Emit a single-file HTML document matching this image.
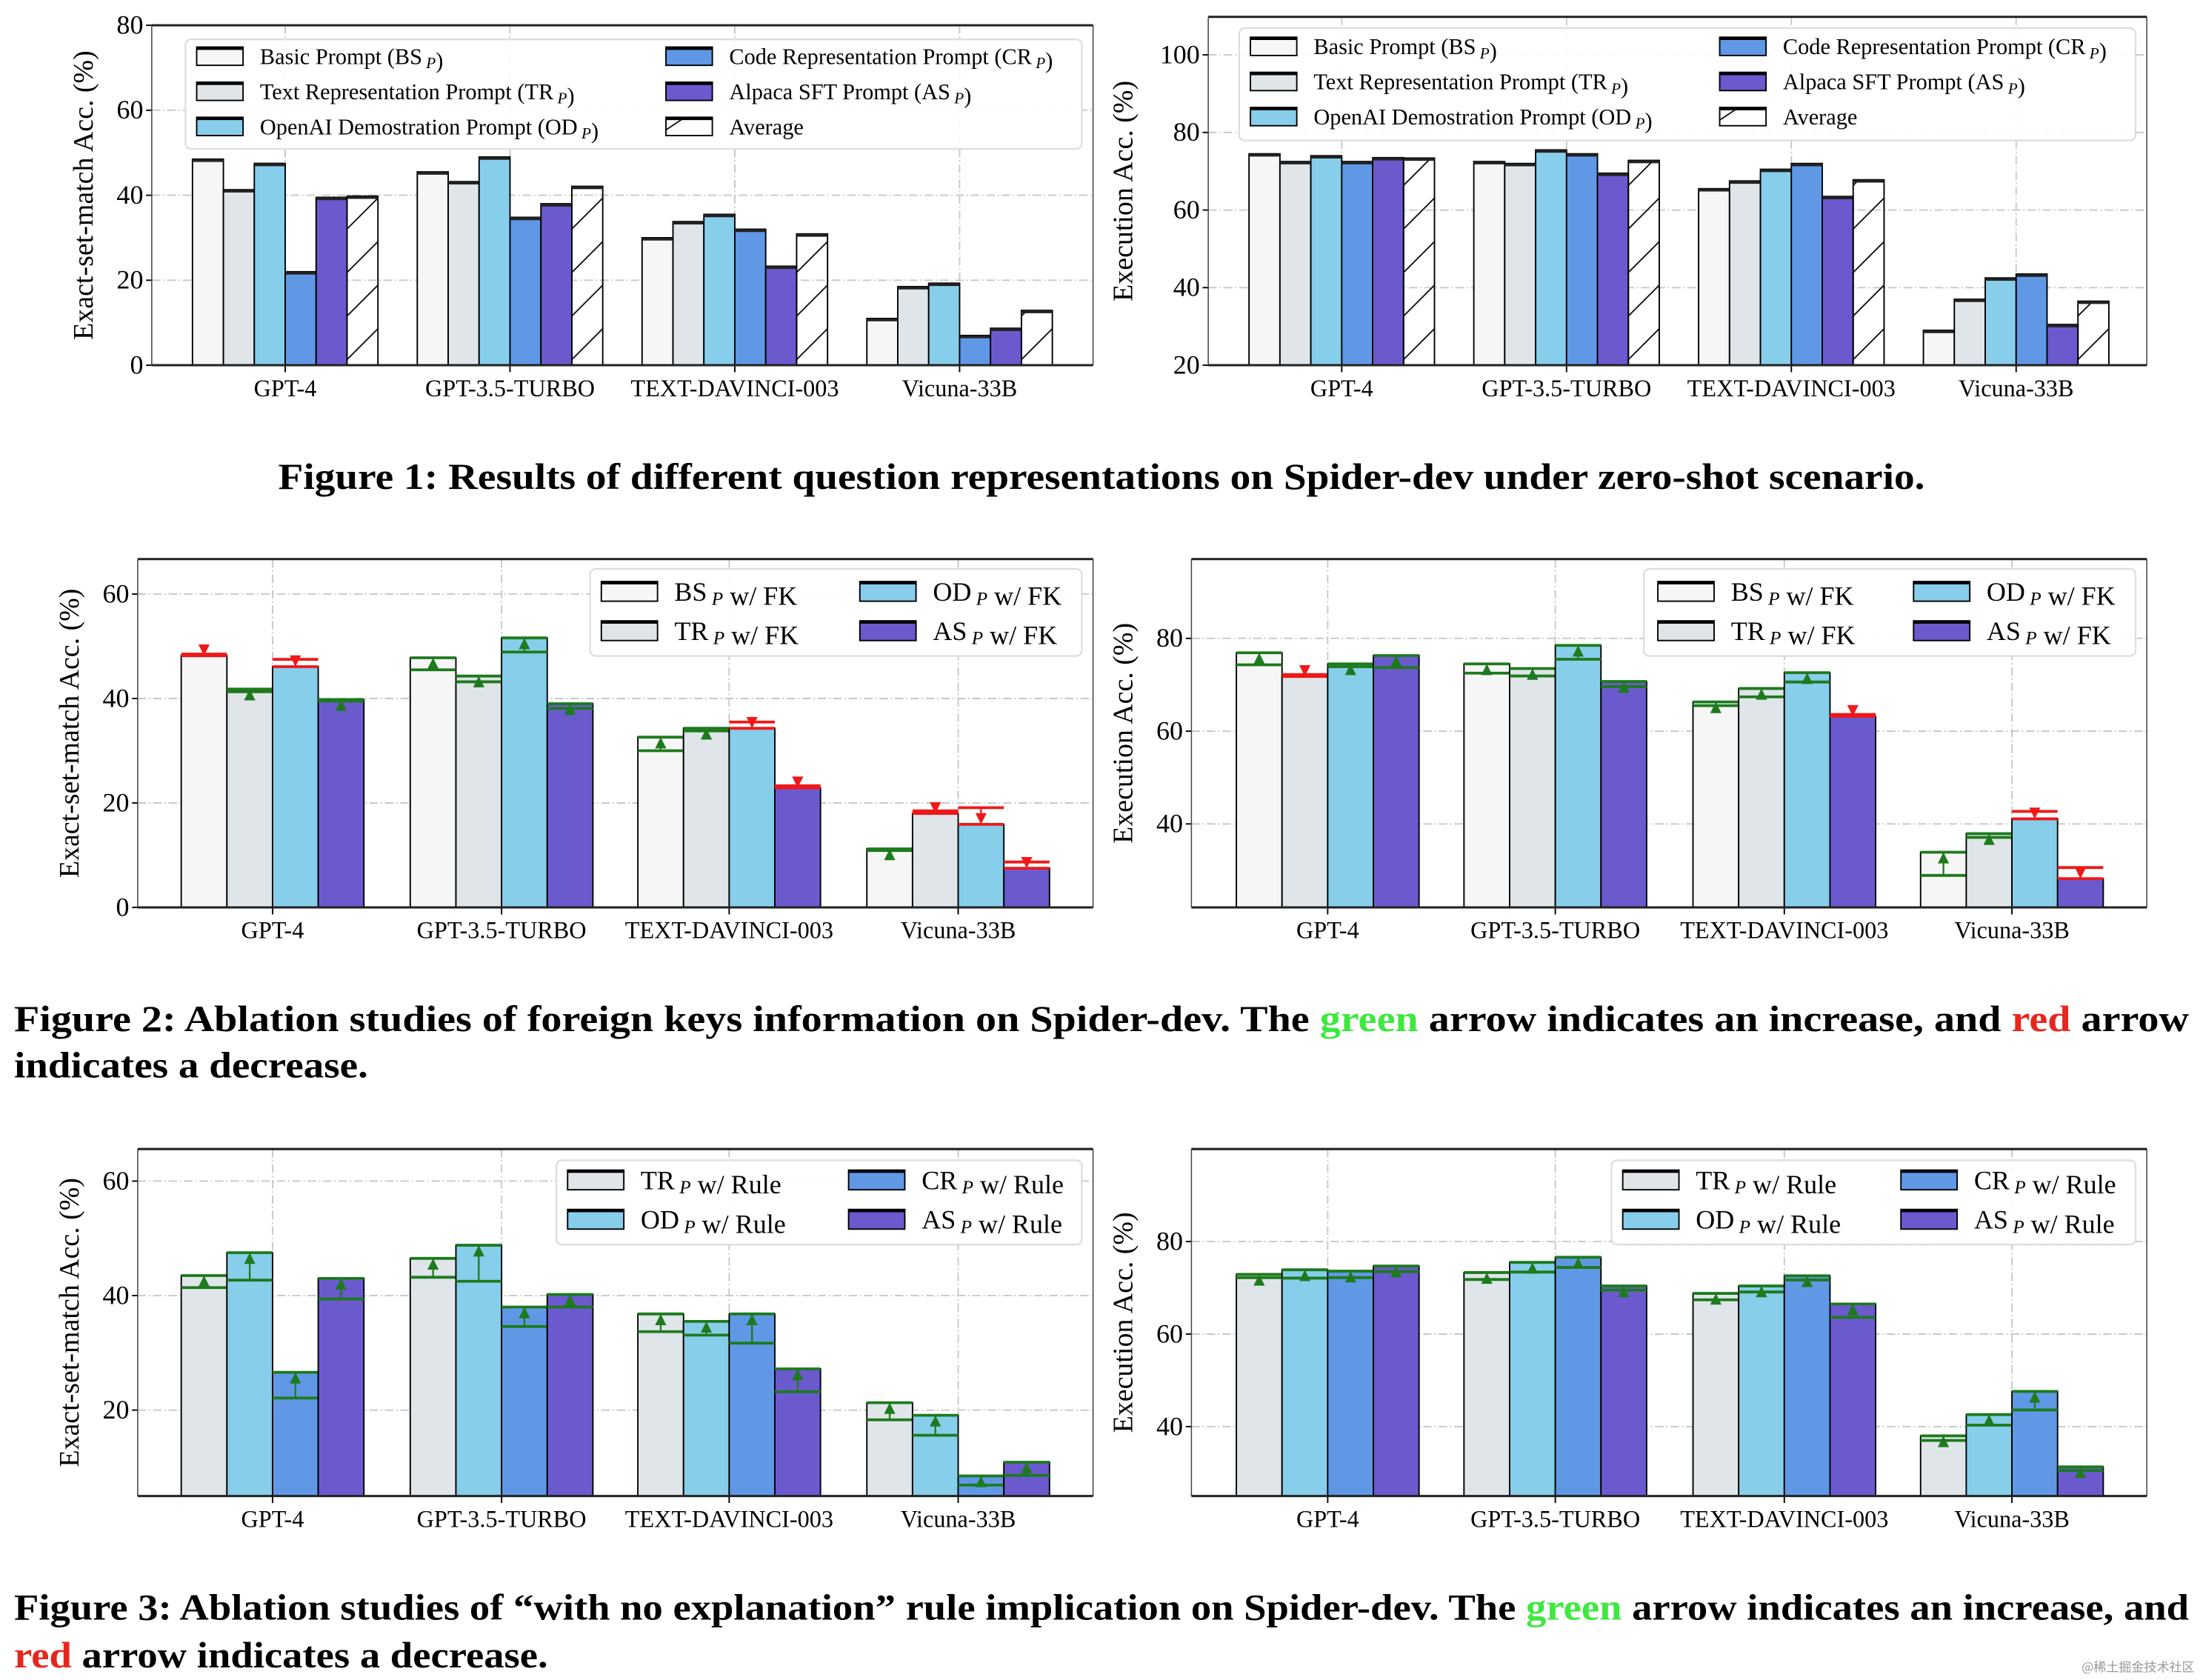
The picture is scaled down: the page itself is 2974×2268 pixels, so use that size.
<!DOCTYPE html>
<html><head><meta charset="utf-8">
<style>
html,body{margin:0;padding:0;background:#fff;}
svg{display:block;font-family:"Liberation Serif","Noto Serif CJK SC",serif;}
</style></head>
<body>
<svg id="root" xmlns="http://www.w3.org/2000/svg" width="2974" height="2268" viewBox="0 0 1568 1196" preserveAspectRatio="none">
<defs id="defs"></defs>
<g id="charts"></g>
<g>
<text x="784" y="348" text-anchor="middle" font-size="26" font-weight="bold" textLength="1172" lengthAdjust="spacingAndGlyphs">Figure 1: Results of different question representations on Spider-dev under zero-shot scenario.</text>
</g>
<g font-size="26" font-weight="bold">
<text x="10" y="734" textLength="1548" lengthAdjust="spacingAndGlyphs">Figure 2: Ablation studies of foreign keys information on Spider-dev. The <tspan fill="#3ee83e">green</tspan> arrow indicates an increase, and <tspan fill="#e8261e">red</tspan> arrow</text>
<text x="10" y="767" textLength="252" lengthAdjust="spacingAndGlyphs">indicates a decrease.</text>
</g>
<g font-size="26" font-weight="bold">
<text x="10" y="1153" textLength="1548" lengthAdjust="spacingAndGlyphs">Figure 3: Ablation studies of “with no explanation” rule implication on Spider-dev. The <tspan fill="#3ee83e">green</tspan> arrow indicates an increase, and</text>
<text x="10" y="1187" textLength="380" lengthAdjust="spacingAndGlyphs"><tspan fill="#e8261e">red</tspan> arrow indicates a decrease.</text>
</g>
<text x="1562" y="1190" text-anchor="end" font-size="9" fill="#999" font-family="'Noto Sans CJK SC',sans-serif">@稀土掘金技术社区</text>
</svg>
<script>
// ---- data ----
const categories = ["GPT-4","GPT-3.5-TURBO","TEXT-DAVINCI-003","Vicuna-33B"];
// Figure 1 left (EM)
const f1lBS=[48.5,45.5,30.0,11.0];
const f1lTR=[41.3,43.2,33.8,18.5];
const f1lOD=[47.5,49.0,35.5,19.3];
const f1lCR=[22.0,34.8,32.0,7.0];
const f1lAS=[39.5,38.0,23.3,8.7];
const f1lAVG=[39.8,42.1,30.9,12.9];
// Figure 1 right (EX)
const f1rBS=[74.5,72.5,65.5,29.0];
const f1rTR=[72.5,72.0,67.5,37.0];
const f1rOD=[74.0,75.5,70.5,42.5];
const f1rCR=[72.5,74.5,72.0,43.5];
const f1rAS=[73.5,69.5,63.5,30.5];
const f1rAVG=[73.4,72.8,67.8,36.5];
// Figure 2 left: base and with FK
const f2lBSbase=[48.5,45.5,30.0,10.9], f2lBSfk=[48.2,47.8,32.6,11.2];
const f2lTRbase=[41.3,43.2,33.8,18.5], f2lTRfk=[41.8,44.3,34.3,18.0];
const f2lODbase=[47.5,48.9,35.5,19.1], f2lODfk=[46.1,51.6,34.3,15.9];
const f2lASbase=[39.5,38.1,23.3,8.7], f2lASfk=[39.8,39.0,22.9,7.5];
// Figure 2 right
const f2rBSbase=[74.3,72.5,65.5,28.9], f2rBSfk=[76.9,74.5,66.3,33.9];
const f2rTRbase=[72.2,71.9,67.4,37.1], f2rTRfk=[71.8,73.5,69.2,37.9];
const f2rODbase=[73.9,75.5,70.6,42.7], f2rODfk=[74.5,78.5,72.6,41.1];
const f2rASbase=[73.7,69.6,63.6,30.6], f2rASfk=[76.3,70.7,63.2,28.2];
// Figure 3 left: base and with rule
const f3lTRbase=[41.4,43.2,33.7,18.3], f3lTRrule=[43.5,46.5,36.8,21.3];
const f3lODbase=[42.7,42.5,33.1,15.6], f3lODrule=[47.5,48.8,35.5,19.1];
const f3lCRbase=[22.1,34.6,31.7,6.9], f3lCRrule=[26.6,38.0,36.8,8.5];
const f3lASbase=[39.4,38.0,23.2,8.6], f3lASrule=[43.0,40.2,27.2,10.9];
// Figure 3 right
const f3rTRbase=[72.2,71.8,67.4,37.0], f3rTRrule=[72.9,73.3,68.8,38.0];
const f3rODbase=[72.1,73.4,69.1,40.3], f3rODrule=[73.9,75.5,70.4,42.6];
const f3rCRbase=[72.2,74.4,71.7,43.6], f3rCRrule=[73.6,76.6,72.6,47.6];
const f3rASbase=[73.5,69.5,63.6,30.5], f3rASrule=[74.7,70.4,66.5,31.3];
// ticks
const f1lTicks=[0,20,40,60,80], f1rTicks=[20,40,60,80,100];
const f2lTicks=[0,20,40,60], f2rTicks=[40,60,80];
const f3lTicks=[20,40,60], f3rTicks=[40,60,80];

const C={BS:"#f6f6f6",TR:"#dfe5e8",OD:"#87ceeb",CR:"#6098e6",AS:"#6a5acd"};
const NS="http://www.w3.org/2000/svg";
const root=document.getElementById("charts");
const defs=document.getElementById("defs");
let patId=0;
function el(tag,attrs,parent){const e=document.createElementNS(NS,tag);for(const k in attrs)e.setAttribute(k,attrs[k]);(parent||root).appendChild(e);return e;}
function hatchFor(x,y,w){
  const id="h"+(patId++);
  const p=el("pattern",{id:id,patternUnits:"userSpaceOnUse",x:x,y:y,width:w,height:31},defs);
  el("line",{x1:0,y1:27,x2:w,y2:5,stroke:"#000","stroke-width":0.9},p);
  el("line",{x1:-w,y1:27+22,x2:w*2,y2:5-22,stroke:"#000","stroke-width":0,opacity:0},p);
  return "url(#"+id+")";
}

function axes(cfg){
  const g=el("g",{});
  
  
  const yf=v=>cfg.y0-(v-cfg.vmin)/(cfg.vmax-cfg.vmin)*(cfg.y0-cfg.y1);
  cfg.ticks.forEach(t=>{
    const yy=yf(t);
    const gl=el("line",{x1:cfg.x0,x2:cfg.x1,y1:yy,y2:yy,stroke:"#c8c8c8","stroke-width":1,"stroke-dasharray":"6 2 1 2"},g);
    
    
    el("line",{x1:cfg.x0-4,x2:cfg.x0,y1:yy,y2:yy,stroke:"#000","stroke-width":1},g);
    const tl=el("text",{x:cfg.x0-6,y:yy+6,"text-anchor":"end","font-size":19},g);
    tl.textContent=t;
    
    
  });
  cfg.cx.forEach((cx,i)=>{
    const vl=el("line",{x1:cx,x2:cx,y1:cfg.y1,y2:cfg.y0,stroke:"#c8c8c8","stroke-width":1,"stroke-dasharray":"6 2 1 2"},g);
    
    
    el("line",{x1:cx,x2:cx,y1:cfg.y0,y2:cfg.y0+5,stroke:"#000","stroke-width":1},g);
    const xl=el("text",{x:cx,y:cfg.y0+22,"text-anchor":"middle","font-size":17},g);
    xl.textContent=categories[i];
    
    
  });
  const yl=el("text",{x:0,y:0,"text-anchor":"middle","font-size":20,transform:`translate(${cfg.ylx},${(cfg.y0+cfg.y1)/2}) rotate(-90)`},g);
  yl.textContent=cfg.ylabel;
  
  
  return {g,yf};
}
function frame(cfg,g){
  el("line",{x1:cfg.x0,x2:cfg.x0,y1:cfg.y1,y2:cfg.y0,stroke:"#444","stroke-width":0.8},g);
  el("line",{x1:cfg.x1,x2:cfg.x1,y1:cfg.y1,y2:cfg.y0,stroke:"#444","stroke-width":0.8},g);
  el("line",{x1:cfg.x0,x2:cfg.x1,y1:cfg.y1,y2:cfg.y1,stroke:"#222","stroke-width":1.6},g);
  el("line",{x1:cfg.x0,x2:cfg.x1,y1:cfg.y0,y2:cfg.y0,stroke:"#222","stroke-width":1.6},g);
}
function legend(g,box,items,rows,colX,rowY,pw,ph,fs){
  const lg=el("g",{},g);
  
  
  el("rect",{x:box[0],y:box[1],width:box[2],height:box[3],rx:4,fill:"#fff","fill-opacity":0.9,stroke:"#ddd","stroke-width":1.2},lg);
  items.forEach((it,i)=>{
    const c=Math.floor(i/rows), r=i%rows;
    const x=colX[c], y=rowY[r];
    const eg=el("g",{},lg);
    
    
    const fill=it.fill==="hatch"?hatchFor(x,y+ph/2,pw):it.fill;
    el("rect",{x:x,y:y-ph/2,width:pw,height:ph,fill:fill,stroke:"#000","stroke-width":1},eg);
    el("line",{x1:x,x2:x+pw,y1:y-ph/2+1,y2:y-ph/2+1,stroke:"#000","stroke-width":2},eg);
    const t=el("text",{x:x+pw+12,y:y+fs*0.35,"font-size":fs},eg);
    t.innerHTML=it.label;
  });
}
function sub(a){return `${a}<tspan font-style="italic" font-size="0.7em" dy="3"> P</tspan><tspan dy="-3"></tspan>`;}

// ---- Figure 1 ----
function fig1(cfg,series,fills,names,legendCfg){
  const {g,yf}=axes(cfg);
  const n=series.length, bw=cfg.bw;
  series.forEach((arr,s)=>{
    arr.forEach((v,i)=>{
      const x=cfg.cx[i]-n*bw/2+s*bw, yy=yf(v);
      const fill=fills[s]==="hatch"?hatchFor(x,cfg.y0,bw):fills[s];
      const r=el("rect",{x:x,y:yy,width:bw,height:cfg.y0-yy,fill:fill,stroke:"#000","stroke-width":1},g);
      
      
      el("line",{x1:x,x2:x+bw,y1:yy+1,y2:yy+1,stroke:"#222","stroke-width":2},g);
    });
  });
  frame(cfg,g);
  legend(g,...legendCfg);
}
const f1Items=[{fill:C.BS,label:"Basic Prompt ("+sub("BS")+")"},{fill:C.TR,label:"Text Representation Prompt ("+sub("TR")+")"},{fill:C.OD,label:"OpenAI Demostration Prompt ("+sub("OD")+")"},{fill:C.CR,label:"Code Representation Prompt ("+sub("CR")+")"},{fill:C.AS,label:"Alpaca SFT Prompt ("+sub("AS")+")"},{fill:"hatch",label:"Average"}];
fig1({name:"fig1-em-chart",x0:108,x1:778,y0:260,y1:18,vmin:0,vmax:80,ticks:f1lTicks,cx:[203,363,523,683],bw:22,ylx:66,ylabel:"Exact-set-match Acc. (%)"},
 [f1lBS,f1lTR,f1lOD,f1lCR,f1lAS,f1lAVG],[C.BS,C.TR,C.OD,C.CR,C.AS,"hatch"],["bs","tr","od","cr","as","avg"],
 [[132,28,638,78],f1Items,3,[140,474],[40,65,90],33,13,16]);
fig1({name:"fig1-ex-chart",x0:860,x1:1528,y0:260,y1:12,vmin:20,vmax:109.8,ticks:f1rTicks,cx:[955,1115,1275,1435],bw:22,ylx:806,ylabel:"Execution Acc. (%)"},
 [f1rBS,f1rTR,f1rOD,f1rCR,f1rAS,f1rAVG],[C.BS,C.TR,C.OD,C.CR,C.AS,"hatch"],["bs","tr","od","cr","as","avg"],
 [[882,20,638,80],f1Items,3,[890,1224],[33,58,83],33,13,16]);

// ---- Figures 2 & 3 (ablation with arrows) ----
function ablation(cfg,bases,news,fills,names,legendCfg){
  const {g,yf}=axes(cfg);
  const n=bases.length,bw=cfg.bw;
  bases.forEach((barr,s)=>{
    barr.forEach((b,i)=>{
      const nv=news[s][i];
      const x=cfg.cx[i]-n*bw/2+s*bw, yb=yf(b), yn=yf(nv);
      const r=el("rect",{x:x,y:yn,width:bw,height:cfg.y0-yn,fill:fills[s],stroke:"#000","stroke-width":1},g);
      
      
      const up=nv>=b, col=up?"#1d7a1d":"#f01818";
      const ag=el("g",{},g);
      
      
      el("line",{x1:x,x2:x+bw,y1:yb,y2:yb,stroke:col,"stroke-width":2},ag);
      el("line",{x1:x,x2:x+bw,y1:yn,y2:yn,stroke:col,"stroke-width":2},ag);
      const cx=x+bw/2;
      el("line",{x1:cx,x2:cx,y1:yb,y2:yn,stroke:col,"stroke-width":1.2},ag);
      if(up) el("polygon",{points:`${cx-4},${yn+8} ${cx+4},${yn+8} ${cx},${yn}`,fill:col},ag);
      else el("polygon",{points:`${cx-4},${yn-8} ${cx+4},${yn-8} ${cx},${yn}`,fill:col},ag);
    });
  });
  frame(cfg,g);
  legend(g,...legendCfg);
}
const fkItems=[{fill:C.BS,label:sub("BS")+" w/ FK"},{fill:C.TR,label:sub("TR")+" w/ FK"},{fill:C.OD,label:sub("OD")+" w/ FK"},{fill:C.AS,label:sub("AS")+" w/ FK"}];
ablation({name:"fig2-em-chart",x0:98,x1:778,y0:646,y1:398,vmin:0,vmax:66.7,ticks:f2lTicks,cx:[194,357,519,682],bw:32.5,ylx:56,ylabel:"Exact-set-match Acc. (%)"},
 [f2lBSbase,f2lTRbase,f2lODbase,f2lASbase],[f2lBSfk,f2lTRfk,f2lODfk,f2lASfk],[C.BS,C.TR,C.OD,C.AS],["bs","tr","od","as"],
 [[420,405,350,62],fkItems,2,[428,612],[421,449],40,14,19]);
ablation({name:"fig2-ex-chart",x0:848,x1:1528,y0:646,y1:398,vmin:22.0,vmax:97.1,ticks:f2rTicks,cx:[945,1107,1270,1432],bw:32.5,ylx:806,ylabel:"Execution Acc. (%)"},
 [f2rBSbase,f2rTRbase,f2rODbase,f2rASbase],[f2rBSfk,f2rTRfk,f2rODfk,f2rASfk],[C.BS,C.TR,C.OD,C.AS],["bs","tr","od","as"],
 [[1170,405,350,62],fkItems,2,[1180,1362],[421,449],40,14,19]);
const ruleItems=[{fill:C.TR,label:sub("TR")+" w/ Rule"},{fill:C.OD,label:sub("OD")+" w/ Rule"},{fill:C.CR,label:sub("CR")+" w/ Rule"},{fill:C.AS,label:sub("AS")+" w/ Rule"}];
ablation({name:"fig3-em-chart",x0:98,x1:778,y0:1065,y1:818,vmin:5.0,vmax:65.6,ticks:f3lTicks,cx:[194,357,519,682],bw:32.5,ylx:56,ylabel:"Exact-set-match Acc. (%)"},
 [f3lTRbase,f3lODbase,f3lCRbase,f3lASbase],[f3lTRrule,f3lODrule,f3lCRrule,f3lASrule],[C.TR,C.OD,C.CR,C.AS],["tr","od","cr","as"],
 [[396,826,374,60],ruleItems,2,[404,604],[840,868],40,14,19]);
ablation({name:"fig3-ex-chart",x0:848,x1:1528,y0:1065,y1:818,vmin:25.0,vmax:100,ticks:f3rTicks,cx:[945,1107,1270,1432],bw:32.5,ylx:806,ylabel:"Execution Acc. (%)"},
 [f3rTRbase,f3rODbase,f3rCRbase,f3rASbase],[f3rTRrule,f3rODrule,f3rCRrule,f3rASrule],[C.TR,C.OD,C.CR,C.AS],["tr","od","cr","as"],
 [[1147,826,373,60],ruleItems,2,[1155,1353],[840,868],40,14,19]);
</script>
</body></html>
